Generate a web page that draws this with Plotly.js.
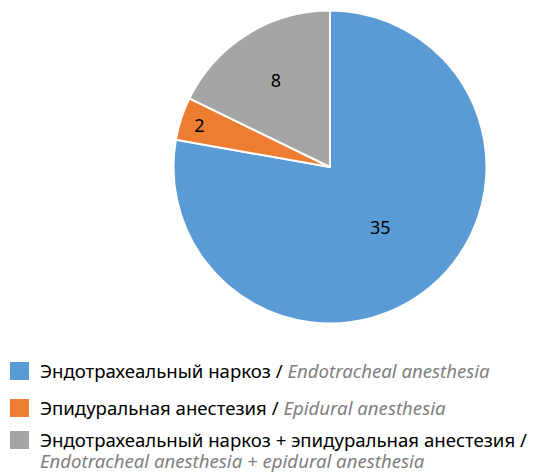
<!DOCTYPE html>
<html>
<head>
<meta charset="utf-8">
<script src="https://cdn.plot.ly/plotly-3.0.1.min.js"></script>
<style>html,body{margin:0;padding:0;background:#fff;}#chart{width:540px;height:473px;}</style>
</head>
<body>
<div id="chart"></div>
<script>
var values = [35, 2, 8];
var ruLabels = ["Эндотрахеальный наркоз", "Эпидуральная анестезия", "Эндотрахеальный наркоз + эпидуральная анестезия"];
var enLabels = ["Endotracheal anesthesia", "Epidural anesthesia", "Endotracheal anesthesia + epidural anesthesia"];
var colors = ["#5B9BD5", "#ED7D31", "#A5A5A5"];

var W = 540, H = 473;
var FONT = "Noto Sans, sans-serif";

var trace = {
  type: "pie",
  values: values,
  labels: ruLabels,
  sort: false,
  direction: "clockwise",
  rotation: 0,
  marker: {colors: colors, line: {color: "#ffffff", width: 2}},
  textinfo: "value",
  textposition: "inside",
  insidetextorientation: "horizontal",
  textfont: {family: FONT, size: 18, color: "#000000"},
  domain: {x: [(330 - 156.5) / W, (330 + 156.5) / W], y: [(306 - 156.5) / H, (306 + 156.5) / H]},
  showlegend: false,
  hoverinfo: "label+value"
};

// custom legend built from the arrays
var rowY = [370, 407, 439];
var FS = 18.6;
var shapes = [], annotations = [];
function ann(txt, yc) {
  return {xref: "paper", yref: "paper", x: 38 / W, y: 1 - yc / H,
    xanchor: "left", yanchor: "middle", align: "left", showarrow: false,
    text: txt, font: {family: FONT, size: FS, color: "#000000"}};
}
for (var i = 0; i < ruLabels.length; i++) {
  shapes.push({type: "rect", xref: "paper", yref: "paper",
    x0: 10 / W, x1: 29 / W, y0: 1 - (rowY[i] - 8) / H, y1: 1 - (rowY[i] + 10) / H,
    fillcolor: colors[i], line: {width: 0}});
  var en = '<i><span style="color:#7f7f7f">' + enLabels[i] + '</span></i>';
  if (i === 2) {
    annotations.push(ann(ruLabels[i] + " /", rowY[i]));
    annotations.push(ann(en, rowY[i] + 21));
  } else {
    annotations.push(ann(ruLabels[i] + " / " + en, rowY[i]));
  }
}

var layout = {
  width: W, height: H,
  margin: {l: 0, r: 0, t: 0, b: 0},
  paper_bgcolor: "#ffffff",
  shapes: shapes,
  annotations: annotations,
  showlegend: false
};

Plotly.newPlot("chart", [trace], layout, {displayModeBar: false, staticPlot: true});
</script>
</body>
</html>
